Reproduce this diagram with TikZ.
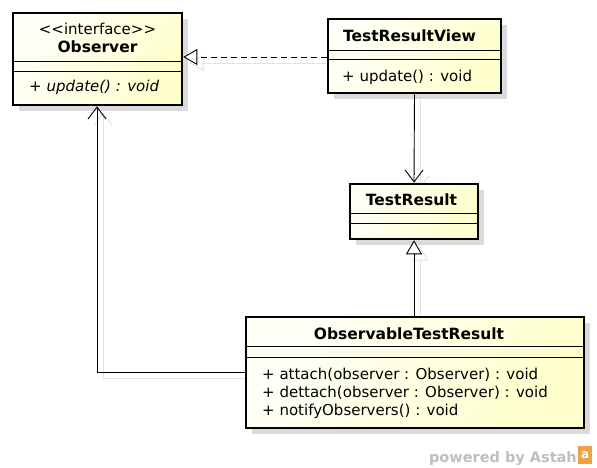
\documentclass[tikz,border=0pt]{standalone}
\usepackage{fontspec}
\setmainfont{DejaVu Sans}[Ligatures=TeXOff]
\usetikzlibrary{arrows.meta}
\definecolor{fillA}{RGB}{255,255,248}
\definecolor{fillB}{RGB}{255,255,205}
\definecolor{shadowgray}{RGB}{218,218,218}
\definecolor{lineshadow}{RGB}{225,225,225}
\definecolor{wmgray}{RGB}{190,190,190}
\definecolor{astahorange}{RGB}{240,160,70}
\tikzset{
  classbox/.style={draw=black, line width=2.6pt, inner sep=0pt,
    left color=fillA, right color=fillB, shading angle=60},
  boxshadow/.style={fill=shadowgray, draw=none},
  sep/.style={line width=0.9pt},
  lbl/.style={inner sep=0pt, anchor=base, font=\fontsize{15}{17}\selectfont},
  lblb/.style={inner sep=0pt, anchor=base, font=\fontsize{15.5}{17}\selectfont\bfseries},
  lbll/.style={inner sep=0pt, anchor=base west, font=\fontsize{15}{17}\selectfont},
  conn/.style={line width=0.9pt},
  realize/.style={conn, dash pattern=on 6pt off 4pt, -{Triangle[open, length=14pt, width=16pt, fill=white]}},
  gen/.style={conn, -{Triangle[open, length=14pt, width=16pt, fill=white]}},
  nav/.style={conn, -{Straight Barb[length=12pt, width=18pt]}},
  cshadow/.style={line width=0.9pt, draw=lineshadow, transform canvas={shift={(6pt,-6pt)}}},
}
\begin{document}
\begin{tikzpicture}[x=1pt, y=-1pt]
\useasboundingbox (0,0) rectangle (597,468);

% box shadows
\fill[boxshadow] (19,19) rectangle (188,111);
\fill[boxshadow] (334,25) rectangle (507,99);
\fill[boxshadow] (356,190) rectangle (484,245);
\fill[boxshadow] (252,323) rectangle (590,434);

% connector shadows
\draw[cshadow, -{Triangle[open, length=14pt, width=16pt]}] (328,57) -- (183.5,57);
\draw[cshadow, -{Straight Barb[length=12pt, width=18pt]}] (414,94.5) -- (414,182.5);
\draw[cshadow, -{Triangle[open, length=14pt, width=16pt]}] (414,315.5) -- (414,240.5);
\draw[cshadow, -{Straight Barb[length=12pt, width=18pt]}] (244.5,372) -- (97,372) -- (97,106.5);

% class boxes
\node[classbox, minimum width=169pt, minimum height=92pt] (obs) at (97.5,59) {};
\node[classbox, minimum width=173pt, minimum height=74pt] (trv) at (414.5,56) {};
\node[classbox, minimum width=128pt, minimum height=55pt] (tr) at (414,211.5) {};
\node[classbox, minimum width=338pt, minimum height=111pt] (otr) at (415,372.5) {};

% Observer
\draw[sep] (obs.west |- 0,61) -- (obs.east |- 0,61);
\draw[sep] (obs.west |- 0,71) -- (obs.east |- 0,71);
\node[lbl] (obsst) at (97.5,35) {<<interface>>};
\node[lblb] (obsname) at (97.5,53) {Observer};
\node[lbll, font=\fontsize{15}{17}\selectfont\itshape] (obsop) at (29,92) {+ update() : void};

% TestResultView
\draw[sep] (trv.west |- 0,50) -- (trv.east |- 0,50);
\draw[sep] (trv.west |- 0,59) -- (trv.east |- 0,59);
\node[lblb] (trvname) at (409.5,42) {TestResultView};
\node[lbll] (trvop) at (342,82) {+ update() : void};

% TestResult
\draw[sep] (tr.west |- 0,213) -- (tr.east |- 0,213);
\draw[sep] (tr.west |- 0,223) -- (tr.east |- 0,223);
\node[lblb] (trname) at (411.5,205) {TestResult};

% ObservableTestResult
\draw[sep] (otr.west |- 0,346) -- (otr.east |- 0,346);
\draw[sep] (otr.west |- 0,357) -- (otr.east |- 0,357);
\node[lblb] (otrname) at (409,339) {ObservableTestResult};
\node[lbll] (otr1) at (262,379) {+ attach(observer : Observer) : void};
\node[lbll] (otr2) at (262,397) {+ dettach(observer : Observer) : void};
\node[lbll] (otr3) at (262,415) {+ notifyObservers() : void};

% connectors
\coordinate (c1s) at (trv.west |- 0,57);
\coordinate (c1e) at (obs.east |- 0,57);
\draw[realize] (c1s) -- (c1e);
\draw[nav] (trv.south) -- (tr.north);
\draw[gen] (otr.north -| tr.south) -- (tr.south);
\coordinate (c4s) at (otr.west |- 0,372);
\coordinate (c4b) at (97,372);
\draw[nav] (c4s) -- (c4b) -- (c4b |- obs.south);

% watermark
\node[inner sep=0pt, anchor=base east, text=wmgray, font=\fontsize{14.5}{16}\selectfont\bfseries] (wm) at (577,462) {powered by Astah};
\node[inner sep=0pt, fill=astahorange, minimum width=14pt, minimum height=18pt, anchor=west, text=white, font=\fontsize{12}{12}\selectfont\bfseries] (logo) at (578,455) {a};
\end{tikzpicture}
\end{document}
